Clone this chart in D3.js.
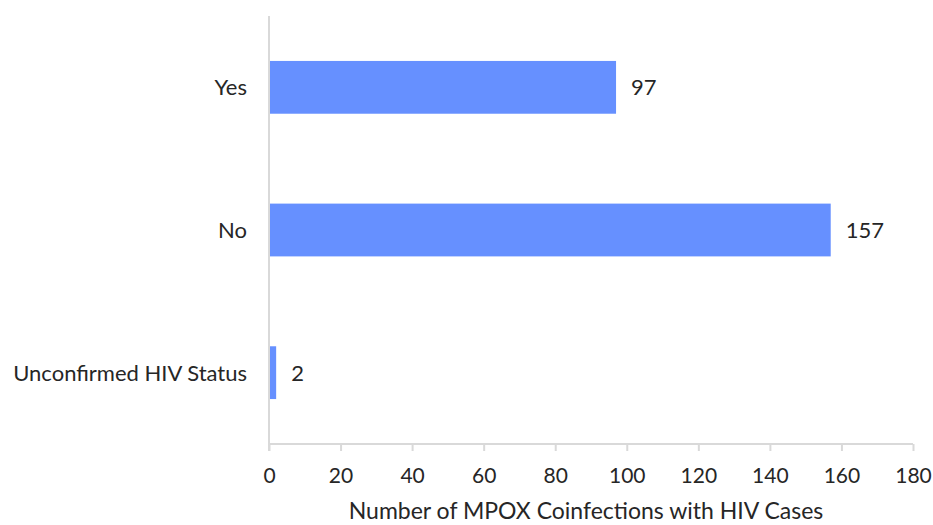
<!DOCTYPE html>
<html><head><meta charset="utf-8">
<script src="https://cdn.jsdelivr.net/npm/d3@7"></script>
<style>body{margin:0;background:#fff}svg{display:block}text{font-family:Lato,"Open Sans",sans-serif;fill:#262626}</style>
</head><body>
<svg id="c" width="933" height="525"></svg>
<script>
const categories = ["Yes", "No", "Unconfirmed HIV Status"];
const values = [97, 157, 2];
const xTicks = [0, 20, 40, 60, 80, 100, 120, 140, 160, 180];
const xTitle = "Number of MPOX Coinfections with HIV Cases";

const svg = d3.select("#c");
const m = {l: 269, r: 913, t: 16, b: 444};
const x = d3.scaleLinear().domain([0, 180]).range([m.l, m.r]);
const y = d3.scaleBand().domain(categories).range([m.t, m.b]).paddingInner(0.63).paddingOuter(0.315);

svg.selectAll("rect.bar").data(categories).join("rect")
  .attr("class", "bar")
  .attr("x", x(0))
  .attr("y", d => y(d))
  .attr("width", (d, i) => x(values[i]) - x(0))
  .attr("height", y.bandwidth())
  .attr("fill", "#6690ff");

const xa = svg.append("g").attr("transform", `translate(0,${m.b})`)
  .call(d3.axisBottom(x).tickValues(xTicks).tickSize(7).tickPadding(0));
xa.select(".domain").attr("stroke", "#d9d9d9").attr("stroke-width", 2).attr("d", `M${m.l},0H${m.r}`);
xa.selectAll(".tick line").attr("stroke", "#d9d9d9").attr("stroke-width", 2);
xa.selectAll(".tick text").attr("y", 39).attr("dy", null).style("font-size", "21px").attr("fill", "#262626");

svg.append("line").attr("x1", m.l).attr("x2", m.l).attr("y1", m.t).attr("y2", m.b + 7)
  .attr("stroke", "#d9d9d9").attr("stroke-width", 2);

svg.selectAll("text.cat").data(categories).join("text")
  .attr("class", "cat")
  .attr("x", m.l - 22)
  .attr("y", d => y(d) + y.bandwidth() / 2 + 8)
  .attr("text-anchor", "end")
  .style("font-size", "22px")
  .text(d => d);

svg.selectAll("text.val").data(categories).join("text")
  .attr("class", "val")
  .attr("x", (d, i) => x(values[i]) + 15)
  .attr("y", d => y(d) + y.bandwidth() / 2 + 8)
  .style("font-size", "22px")
  .text((d, i) => values[i]);

svg.append("text")
  .attr("x", (m.l + m.r) / 2 - 5)
  .attr("y", 519)
  .attr("text-anchor", "middle")
  .style("font-size", "23px")
  .text(xTitle);
</script>
</body></html>
